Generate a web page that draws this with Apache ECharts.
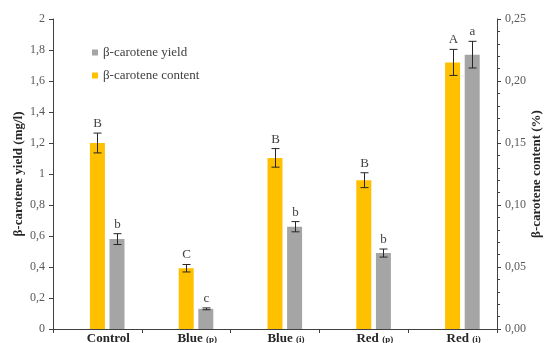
<!DOCTYPE html>
<html>
<head>
<meta charset="utf-8">
<script src="https://cdn.jsdelivr.net/npm/echarts@6/dist/echarts.min.js"></script>
<style>html,body{margin:0;padding:0;background:#fff}#c{width:544px;height:343px}</style>
</head>
<body>
<div id="c"></div>
<script>
const categories = ['Control', 'Blue (p)', 'Blue (i)', 'Red (p)', 'Red (i)'];
const contentPct = [0.150, 0.049, 0.138, 0.120, 0.215];
const contentErr = [0.008, 0.003, 0.0075, 0.006, 0.0105];
const contentLetters = ['B', 'C', 'B', 'B', 'A'];
const yieldMg = [0.58, 0.13, 0.66, 0.49, 1.77];
const yieldErr = [0.035, 0.006, 0.033, 0.026, 0.086];
const yieldLetters = ['b', 'c', 'b', 'b', 'a'];
const leftTicks = ['0', '0,2', '0,4', '0,6', '0,8', '1', '1,2', '1,4', '1,6', '1,8', '2'];
const rightTicks = ['0,00', '0,05', '0,10', '0,15', '0,20', '0,25'];

const FONT = 'Liberation Serif';
const BAR_W = 15;
const GAP = 4.6;
const YELLOW = '#FFC000';
const GRAY = '#A5A5A5';

function errSeries(name, values, errs, letters, yAxisIndex, offset) {
  return {
    type: 'custom',
    name: name + '_err',
    yAxisIndex: yAxisIndex,
    z: 5,
    silent: true,
    data: values.map((v, i) => [i, v, errs[i]]),
    renderItem: function (params, api) {
      const i = api.value(0), v = api.value(1), e = api.value(2);
      const top = api.coord([i, v + e]);
      const bot = api.coord([i, v - e]);
      const x = Math.round(top[0] + offset) + 0.5;
      const st = { stroke: '#262626', lineWidth: 1 };
      return {
        type: 'group',
        children: [
          { type: 'line', shape: { x1: x, y1: top[1], x2: x, y2: bot[1] }, style: st },
          { type: 'line', shape: { x1: x - 4, y1: top[1], x2: x + 4, y2: top[1] }, style: st },
          { type: 'line', shape: { x1: x - 4, y1: bot[1], x2: x + 4, y2: bot[1] }, style: st },
          { type: 'text', style: { x: x, y: top[1] - 3, text: letters[params.dataIndex], fill: '#404040',
              font: '13px "' + FONT + '"', align: 'center', verticalAlign: 'bottom' } }
        ]
      };
    }
  };
}

const chart = echarts.init(document.getElementById('c'));
chart.setOption({
  animation: false,
  backgroundColor: '#fff',
  grid: { left: 53, right: 47, top: 19, bottom: 14, containLabel: false, outerBoundsMode: 'none' },
  legend: {
    data: ['β-carotene yield', 'β-carotene content'],
    orient: 'vertical', left: 87, top: 41, itemGap: 10,
    itemWidth: 6, itemHeight: 6, icon: 'rect',
    textStyle: { fontFamily: FONT, fontSize: 13, color: '#404040' }
  },
  xAxis: {
    type: 'category',
    data: categories,
    axisLine: { lineStyle: { color: '#404040', width: 1 } },
    axisTick: { show: true, length: 4, inside: false, lineStyle: { color: '#404040' } },
    axisLabel: {
      interval: 0, hideOverlap: false,
      margin: 3, padding: [0, 0, 0, 22],
      formatter: function (v) {
        const m = v.match(/^(\S+)\s*\((\w)\)$/);
        if (m) return '{m|' + m[1] + '} {s|(' + m[2] + ')}';
        return '{m|' + v + '}';
      },
      rich: {
        m: { fontFamily: FONT, fontSize: 13, fontWeight: 'bold', color: '#262626' },
        s: { fontFamily: FONT, fontSize: 9, fontWeight: 'bold', color: '#262626', padding: [3, 0, 0, 0] }
      }
    }
  },
  yAxis: [
    {
      type: 'value', min: 0, max: 2, interval: 0.2, position: 'left',
      name: 'β-carotene yield (mg/l)', nameLocation: 'middle', nameGap: 28, nameRotate: 90,
      nameMoveOverlap: false,
      nameTextStyle: { fontFamily: FONT, fontSize: 13, fontWeight: 'bold', color: '#262626' },
      axisLine: { show: true, lineStyle: { color: '#404040' } },
      axisTick: { show: true, length: 4, lineStyle: { color: '#404040' } },
      splitLine: { show: false },
      axisLabel: {
        margin: 8, fontFamily: FONT, fontSize: 12, color: '#595959',
        formatter: function (v) { return leftTicks[Math.round(v / 0.2)]; }
      }
    },
    {
      type: 'value', min: 0, max: 0.25, interval: 0.05, position: 'right',
      name: 'β-carotene content (%)', nameLocation: 'middle', nameGap: 33, nameRotate: 90,
      nameMoveOverlap: false,
      nameTextStyle: { fontFamily: FONT, fontSize: 13, fontWeight: 'bold', color: '#262626' },
      axisLine: { show: true, lineStyle: { color: '#404040' } },
      axisTick: { show: true, length: 4, lineStyle: { color: '#404040' } },
      minorTick: { show: true, splitNumber: 5, length: 3, lineStyle: { color: '#404040' } },
      splitLine: { show: false },
      axisLabel: {
        margin: 8, fontFamily: FONT, fontSize: 12, color: '#595959',
        formatter: function (v) { return rightTicks[Math.round(v / 0.05)]; }
      }
    }
  ],
  series: [
    { type: 'bar', name: 'spacer', yAxisIndex: 0, data: categories.map(() => null),
      barWidth: BAR_W, barGap: (GAP / BAR_W * 100) + '%', silent: true },
    { type: 'bar', name: 'β-carotene content', yAxisIndex: 1, data: contentPct,
      barWidth: BAR_W, barGap: (GAP / BAR_W * 100) + '%', itemStyle: { color: YELLOW } },
    { type: 'bar', name: 'β-carotene yield', yAxisIndex: 0, data: yieldMg,
      barWidth: BAR_W, barGap: (GAP / BAR_W * 100) + '%', itemStyle: { color: GRAY } },
    errSeries('content', contentPct, contentErr, contentLetters, 1, 0),
    errSeries('yield', yieldMg, yieldErr, yieldLetters, 0, BAR_W + GAP)
  ]
});
</script>
</body>
</html>
